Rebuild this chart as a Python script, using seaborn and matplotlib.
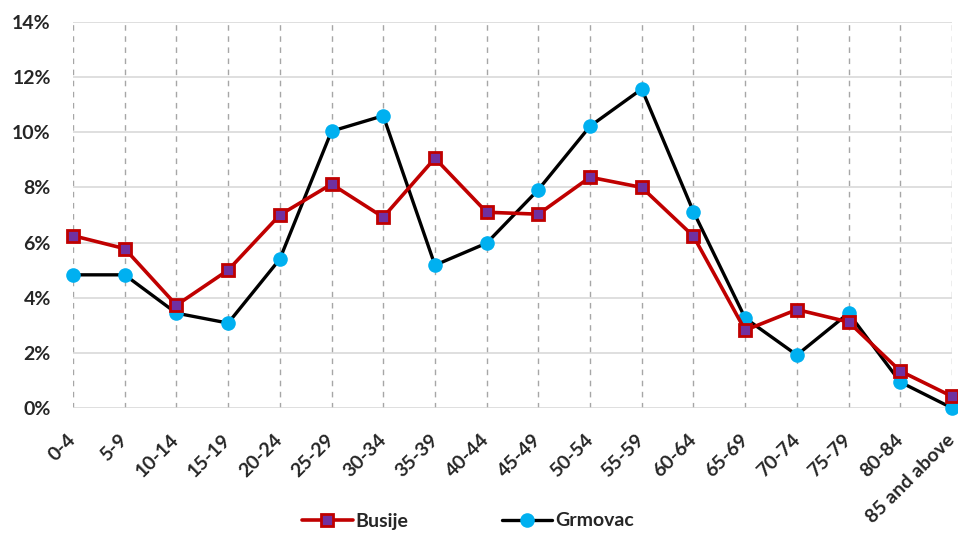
import matplotlib
matplotlib.use("Agg")
import matplotlib.pyplot as plt
import seaborn as sns
import pandas as pd
from matplotlib.ticker import FuncFormatter

categories = ["0-4", "5-9", "10-14", "15-19", "20-24", "25-29", "30-34", "35-39",
              "40-44", "45-49", "50-54", "55-59", "60-64", "65-69", "70-74",
              "75-79", "80-84", "85 and above"]
busije = [6.25, 5.78, 3.73, 5.0, 7.0, 8.12, 6.92, 9.06, 7.1, 7.03, 8.37, 8.0,
          6.23, 2.82, 3.57, 3.12, 1.34, 0.42]
grmovac = [4.83, 4.83, 3.44, 3.08, 5.4, 10.04, 10.6, 5.18, 5.98, 7.92, 10.22,
           11.57, 7.12, 3.26, 1.92, 3.44, 0.94, 0.0]
yticks = [0, 2, 4, 6, 8, 10, 12, 14]

sns.set_theme(style="white")
plt.rcParams['font.family'] = ['Lato', 'DejaVu Sans']

df = pd.DataFrame({"x": list(range(len(categories))), "Busije": busije, "Grmovac": grmovac})

fig = plt.figure(figsize=(9.58, 5.34), dpi=100)
ax = fig.add_axes([73/958, 1-408/534, (952-73)/958, (408-22)/534])

sns.lineplot(data=df, x="x", y="Grmovac", ax=ax, color="black", linewidth=2.4,
             marker="o", markersize=10.5, markerfacecolor="#00B0F0",
             markeredgecolor="#00B0F0", markeredgewidth=0, label="Grmovac",
             clip_on=False, zorder=3)
sns.lineplot(data=df, x="x", y="Busije", ax=ax, color="#C00000", linewidth=2.6,
             marker="s", markersize=8.5, markerfacecolor="#7030A0",
             markeredgecolor="#C00000", markeredgewidth=2, label="Busije",
             clip_on=False, zorder=4)

ax.set_xlim(0, len(categories) - 1)
ax.set_ylim(0, 14)
ax.set_yticks(yticks)
ax.yaxis.set_major_formatter(FuncFormatter(lambda v, p: f"{int(v)}%"))
ax.set_xticks(range(len(categories)))
ax.set_xticklabels(categories, rotation=45, ha="right", va="center",
                   rotation_mode="anchor")
for lab in ax.get_xticklabels() + ax.get_yticklabels():
    lab.set_fontweight("bold")
    lab.set_fontsize(14)
    lab.set_color("#262626")
ax.tick_params(axis="y", pad=16, length=0)
ax.tick_params(axis="x", pad=21, length=0)
ax.set_xlabel("")
ax.set_ylabel("")

ax.yaxis.grid(True, color="#D9D9D9", linewidth=1.2, linestyle="-")
ax.xaxis.grid(True, color="#A6A6A6", linewidth=1.0, linestyle=(0, (4, 4)))
ax.set_axisbelow(True)
for s in ax.spines.values():
    s.set_visible(False)

handles, labels = ax.get_legend_handles_labels()
order = [labels.index("Busije"), labels.index("Grmovac")]
leg = ax.legend([handles[i] for i in order], [labels[i] for i in order],
                loc="center", bbox_to_anchor=(468/958, 1-521/534),
                bbox_transform=fig.transFigure, ncol=2, frameon=False,
                columnspacing=4.8, handlelength=2.6, handletextpad=0.15,
                prop={"weight": "bold", "size": 14})
for t in leg.get_texts():
    t.set_color("#262626")

fig.savefig("out.png", dpi=100)
